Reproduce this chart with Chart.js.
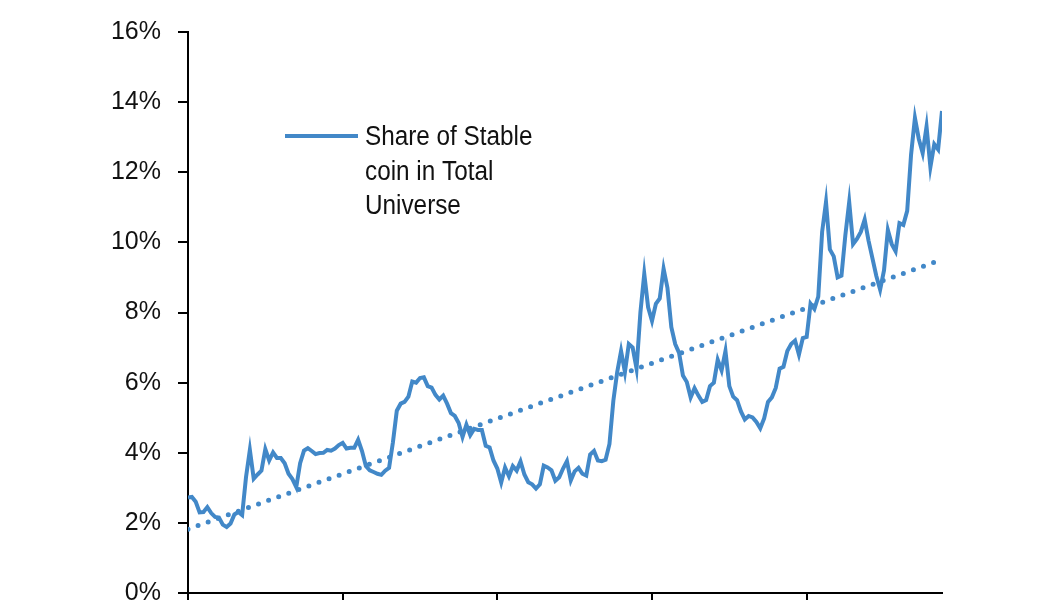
<!DOCTYPE html>
<html>
<head>
<meta charset="utf-8">
<script src="https://cdn.jsdelivr.net/npm/chart.js@4.4.1/dist/chart.umd.min.js"></script>
<style>
  html, body { margin: 0; padding: 0; background: #fff; overflow: hidden; }
  canvas { display: block; }
</style>
</head>
<body>
<canvas id="shareChart" width="1050" height="640"></canvas>
<script>
// share of stablecoins in the total crypto universe, %
const shareValues = [
  2.72, 2.74, 2.60, 2.30, 2.31, 2.45, 2.28, 2.17, 2.15, 1.95,
  1.88, 1.98, 2.24, 2.31, 2.22, 3.30, 4.08, 3.26, 3.38, 3.49,
  4.10, 3.78, 4.01, 3.85, 3.85, 3.70, 3.40, 3.25, 3.02, 3.70,
  4.06, 4.13, 4.05, 3.96, 3.99, 4.00, 4.08, 4.06, 4.12, 4.22,
  4.28, 4.12, 4.14, 4.14, 4.37, 4.05, 3.62, 3.50, 3.45, 3.40,
  3.37, 3.49, 3.57, 4.30, 5.20, 5.40, 5.45, 5.60, 6.03, 6.00,
  6.13, 6.15, 5.90, 5.86, 5.65, 5.52, 5.63, 5.40, 5.13, 5.05,
  4.85, 4.45, 4.80, 4.50, 4.68, 4.65, 4.65, 4.20, 4.15, 3.78,
  3.55, 3.15, 3.58, 3.33, 3.62, 3.49, 3.75, 3.38, 3.16, 3.10,
  2.98, 3.10, 3.63, 3.58, 3.50, 3.20, 3.30, 3.55, 3.76, 3.21,
  3.47, 3.57, 3.40, 3.35, 3.95, 4.05, 3.78, 3.76, 3.80, 4.25,
  5.48, 6.30, 6.90, 6.30, 7.10, 7.00, 6.40, 8.00, 9.10, 8.15,
  7.76, 8.25, 8.40, 9.25, 8.70, 7.58, 7.10, 6.85, 6.20, 6.02,
  5.58, 5.84, 5.63, 5.45, 5.50, 5.90, 6.00, 6.65, 6.35, 6.90,
  5.90, 5.60, 5.50, 5.18, 4.95, 5.05, 5.01, 4.88, 4.70, 4.98,
  5.45, 5.58, 5.85, 6.40, 6.45, 6.90, 7.10, 7.20, 6.80, 7.27,
  7.30, 8.25, 8.10, 8.45, 10.30, 11.15, 9.80, 9.60, 9.00, 9.05,
  10.20, 11.15, 9.95, 10.10, 10.30, 10.65, 10.05, 9.55, 9.05, 8.65,
  9.20, 10.35, 9.95, 9.75, 10.55, 10.50, 10.90, 12.50, 13.55, 12.95,
  12.55, 13.30, 12.15, 12.80, 12.65, 13.75
];
const periods = shareValues.map((v, i) => i);

// dotted linear trend, end points
const trendPeriods = [0, 195];
const trendValues = [1.82, 9.51];

const yTicks = [0, 2, 4, 6, 8, 10, 12, 14, 16];
const legendLines = ['Share of Stable', 'coin in Total', 'Universe'];

const lineBlue = 'rgb(66,136,200)';
const fontFamily = "'Liberation Sans', Arial, sans-serif";

// legend drawn by hand so the label can wrap over three lines
// (text squeezed a little horizontally, like the original)
const wrappedLegend = {
  id: 'wrappedLegend',
  afterDraw(chart) {
    const ctx = chart.ctx;
    const ds = chart.data.datasets[0];
    ctx.save();
    ctx.strokeStyle = ds.borderColor;
    ctx.lineWidth = 4;
    ctx.beginPath();
    ctx.moveTo(285, 136);
    ctx.lineTo(358, 136);
    ctx.stroke();
    ctx.fillStyle = '#111';
    ctx.font = '27px ' + fontFamily;
    ctx.textBaseline = 'alphabetic';
    ctx.translate(365, 0);
    ctx.scale(0.9, 1);
    legendLines.forEach((t, i) => ctx.fillText(t, 0, 145 + i * 34.5));
    ctx.restore();
  }
};

new Chart(document.getElementById('shareChart'), {
  type: 'line',
  data: {
    datasets: [
      {
        label: legendLines.join(' '),
        data: periods.map((p, i) => ({ x: p, y: shareValues[i] })),
        borderColor: lineBlue,
        borderWidth: 4,
        pointRadius: 0,
        tension: 0,
        fill: false
      },
      {
        label: 'Trend',
        data: trendPeriods.map((p, i) => ({ x: p, y: trendValues[i] })),
        borderColor: lineBlue,
        borderWidth: 5,
        borderDash: [0, 10.7],
        borderCapStyle: 'round',
        pointRadius: 0,
        fill: false
      }
    ]
  },
  options: {
    responsive: false,
    animation: false,
    layout: { padding: { top: 25, right: 108, left: 0, bottom: 0 } },
    plugins: {
      legend: { display: false },
      tooltip: { enabled: false }
    },
    scales: {
      x: {
        type: 'linear',
        min: 0,
        max: 195,
        afterFit: s => { s.height = 47; },
        ticks: { display: false, stepSize: 40, includeBounds: false },
        grid: { drawOnChartArea: false, drawTicks: true, tickLength: 10, color: '#000', lineWidth: 2 },
        border: { color: '#000', width: 2 }
      },
      y: {
        min: yTicks[0],
        max: yTicks[yTicks.length - 1],
        afterFit: s => { s.width = 188; },
        afterBuildTicks: s => { s.ticks = yTicks.map(v => ({ value: v })); },
        ticks: {
          padding: 17,
          color: '#111',
          font: { family: fontFamily, size: 25 },
          callback: v => v + '%'
        },
        grid: { drawOnChartArea: false, drawTicks: true, tickLength: 10, color: '#000', lineWidth: 2 },
        border: { color: '#000', width: 2 }
      }
    }
  },
  plugins: [wrappedLegend]
});
</script>
</body>
</html>
